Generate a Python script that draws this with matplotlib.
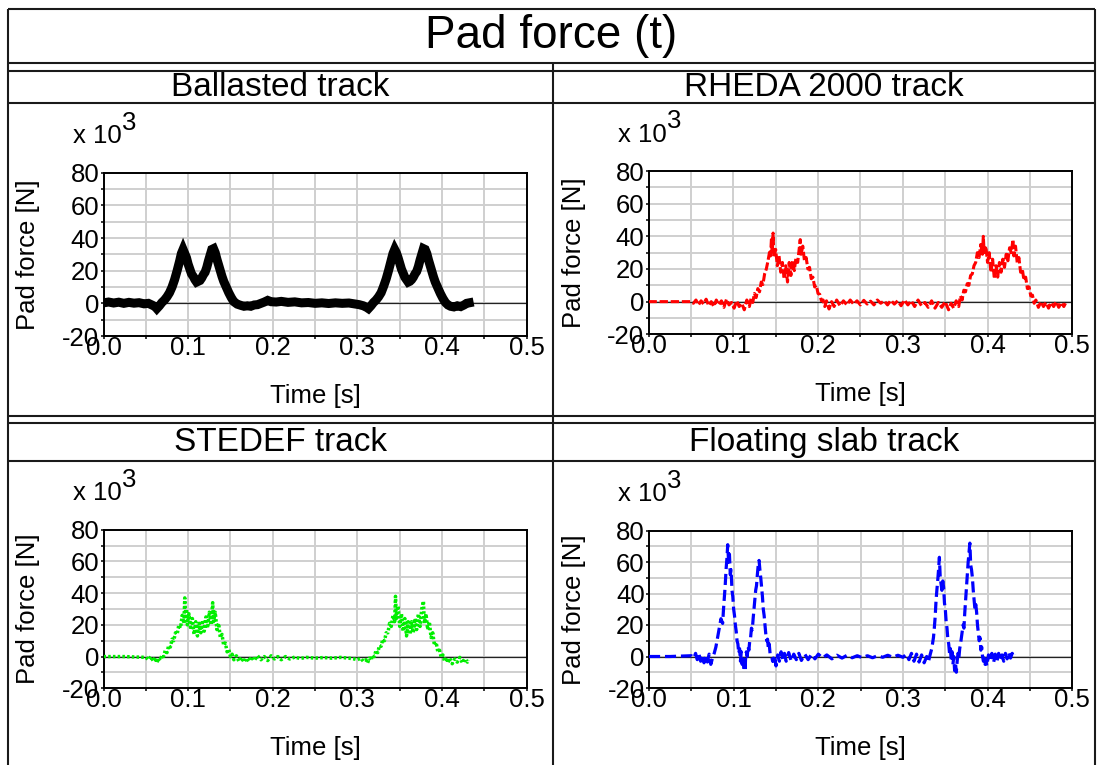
import numpy as np
import matplotlib
matplotlib.use("Agg")
import matplotlib.pyplot as plt
from matplotlib.ticker import MultipleLocator, FormatStrFormatter

plt.rcParams['font.family'] = ['Liberation Sans', 'DejaVu Sans']
plt.rcParams['axes.unicode_minus'] = False
plt.rcParams['lines.scale_dashes'] = False

W, H = 1098, 765

# ---- data (pad force in kN, i.e. x 10^3 N) ----
titles = ["Ballasted track", "RHEDA 2000 track", "STEDEF track", "Floating slab track"]

t_bal = [0.000, 0.006, 0.012, 0.018, 0.024, 0.030, 0.036, 0.042, 0.048, 0.053, 0.058, 0.061, 0.063, 0.066,
         0.069, 0.072, 0.075, 0.078, 0.081, 0.084, 0.087, 0.090, 0.092, 0.094, 0.096, 0.098, 0.100, 0.102,
         0.104, 0.106, 0.108, 0.110, 0.112, 0.114, 0.116, 0.118, 0.120, 0.122, 0.124, 0.126, 0.128, 0.130,
         0.132, 0.134, 0.136, 0.138, 0.140, 0.142, 0.145, 0.148, 0.151, 0.154, 0.158, 0.162, 0.166, 0.170,
         0.174, 0.178, 0.182, 0.186, 0.190, 0.194, 0.198, 0.204, 0.210, 0.218, 0.226, 0.234, 0.242, 0.250,
         0.258, 0.266, 0.274, 0.282, 0.290, 0.296, 0.302, 0.307, 0.311, 0.313, 0.316, 0.319, 0.322, 0.325,
         0.328, 0.331, 0.334, 0.337, 0.340, 0.342, 0.344, 0.346, 0.348, 0.350, 0.352, 0.354, 0.356, 0.358,
         0.360, 0.362, 0.364, 0.366, 0.368, 0.370, 0.372, 0.374, 0.376, 0.378, 0.380, 0.382, 0.384, 0.386,
         0.388, 0.390, 0.392, 0.395, 0.398, 0.401, 0.404, 0.407, 0.410, 0.414, 0.418, 0.422, 0.426, 0.429,
         0.432]
f_bal = [0.3, 0.8, 0.2, 0.7, 0.0, 0.6, 0.1, 0.4, -0.3, 0.0, -1.2, -2.0, -3.2, -1.5,
         0.5, 2.0, 4.0, 6.5, 10.0, 14.5, 20.0, 26.0, 30.5, 33.0, 30.5, 28.0, 24.0, 21.0,
         18.0, 16.5, 14.5, 13.0, 13.5, 14.0, 15.5, 17.5, 19.0, 22.0, 26.0, 29.5, 33.0, 33.5,
         31.0, 27.0, 23.5, 20.0, 16.5, 13.5, 10.0, 6.5, 3.5, 1.0, -0.5, -1.2, -1.8, -1.5,
         -1.8, -1.0, -0.8, 0.0, 0.8, 1.8, 1.0, 0.8, 1.2, 0.6, 0.9, 0.3, 0.5, 0.0,
         0.3, -0.1, 0.3, 0.0, 0.2, -0.3, -0.8, -1.5, -2.5, -3.2, -1.5, 0.5, 2.0, 4.0,
         6.5, 10.5, 15.0, 20.5, 26.5, 30.5, 33.0, 31.0, 28.0, 24.5, 21.0, 18.5, 16.0, 14.5,
         13.0, 13.5, 14.5, 16.0, 18.0, 19.5, 22.5, 26.5, 30.0, 33.5, 33.0, 30.5, 26.5, 23.0,
         19.5, 16.0, 13.0, 9.5, 6.0, 3.0, 0.5, -1.0, -1.8, -2.2, -1.5, -2.0, -1.0, 0.0,
         0.3]

t_rheda = [0.000, 0.025, 0.050, 0.053, 0.056, 0.059, 0.062, 0.065, 0.068, 0.071, 0.074, 0.077, 0.080, 0.083,
           0.086, 0.089, 0.092, 0.095, 0.098, 0.101, 0.104, 0.107, 0.110, 0.113, 0.116, 0.119, 0.121, 0.123,
           0.125, 0.127, 0.129, 0.131, 0.133, 0.135, 0.137, 0.139, 0.141, 0.143, 0.144, 0.145, 0.146, 0.147,
           0.148, 0.150, 0.152, 0.154, 0.156, 0.158, 0.160, 0.162, 0.164, 0.166, 0.168, 0.170, 0.172, 0.174,
           0.176, 0.178, 0.179, 0.180, 0.182, 0.184, 0.186, 0.188, 0.190, 0.192, 0.194, 0.196, 0.198, 0.200,
           0.202, 0.204, 0.206, 0.208, 0.210, 0.213, 0.216, 0.219, 0.222, 0.226, 0.230, 0.234, 0.238, 0.242,
           0.246, 0.250, 0.254, 0.258, 0.262, 0.266, 0.270, 0.274, 0.278, 0.282, 0.286, 0.290, 0.294, 0.298,
           0.302, 0.306, 0.310, 0.314, 0.318, 0.322, 0.326, 0.330, 0.334, 0.338, 0.342, 0.346, 0.350, 0.354,
           0.357, 0.360, 0.363, 0.366, 0.368, 0.370, 0.372, 0.374, 0.376, 0.378, 0.380, 0.382, 0.384, 0.386,
           0.388, 0.390, 0.392, 0.394, 0.395, 0.396, 0.398, 0.400, 0.402, 0.404, 0.406, 0.408, 0.410, 0.412,
           0.414, 0.416, 0.418, 0.420, 0.422, 0.424, 0.426, 0.428, 0.430, 0.431, 0.433, 0.435, 0.437, 0.439,
           0.441, 0.443, 0.445, 0.447, 0.449, 0.451, 0.453, 0.455, 0.457, 0.460, 0.463, 0.466, 0.469, 0.472,
           0.475, 0.478, 0.481, 0.484, 0.487, 0.490, 0.492]
f_rheda = [0.0, 0.0, 0.0, -1.0, 1.0, -2.0, 0.5, -1.5, 1.5, -2.5, 0.0, -3.0, 1.0, -2.0,
           0.5, -3.5, 1.5, -2.0, -0.5, -4.0, 0.5, -3.0, -1.0, -5.0, 1.0, -3.0, 2.0, -0.5,
           5.0, 2.5, 8.0, 6.0, 12.0, 10.5, 17.0, 20.0, 25.0, 31.0, 28.0, 38.0, 30.0, 42.0,
           27.0, 32.0, 22.0, 28.0, 18.0, 24.0, 14.0, 22.0, 12.0, 24.0, 16.0, 25.0, 19.0, 27.0,
           24.0, 33.0, 38.0, 29.0, 34.0, 25.0, 27.0, 20.0, 21.0, 14.0, 15.0, 9.0, 10.0, 5.0,
           4.5, 0.5, 1.0, -3.0, 0.5, -4.5, 0.0, -3.0, 1.0, -2.5, 0.5, -2.0, 1.0, -1.5,
           0.5, -2.0, 0.8, -1.5, 0.3, -2.0, 1.0, -1.0, 0.5, -2.0, 0.8, -1.5, 0.5, -2.5,
           1.0, -2.0, 0.5, -3.0, 1.0, -2.5, -0.5, -3.5, 0.5, -4.0, -0.5, -3.5, 0.0, -5.0,
           -1.0, -4.0, 0.5, -3.0, 3.5, 1.0, 7.0, 6.0, 11.0, 10.0, 16.0, 17.0, 22.0, 24.0,
           30.0, 27.0, 35.0, 29.0, 40.0, 30.0, 34.0, 24.0, 30.0, 18.0, 26.0, 14.0, 22.0, 15.0,
           24.0, 18.0, 26.0, 21.0, 29.0, 25.0, 33.0, 30.0, 38.0, 28.0, 34.0, 24.0, 27.0, 18.0,
           20.0, 13.0, 15.0, 8.0, 9.0, 3.5, 4.0, -1.0, 1.0, -3.5, 0.0, -3.0, -0.5, -4.0,
           -0.5, -3.0, 0.0, -3.5, -0.5, -3.0, -1.0]

t_stedef = [0.000, 0.025, 0.050, 0.053, 0.056, 0.059, 0.061, 0.063, 0.065, 0.067, 0.069, 0.071, 0.073, 0.075,
            0.077, 0.079, 0.081, 0.083, 0.085, 0.087, 0.089, 0.091, 0.093, 0.095, 0.096, 0.097, 0.098, 0.099,
            0.101, 0.103, 0.105, 0.107, 0.109, 0.111, 0.113, 0.115, 0.117, 0.119, 0.121, 0.123, 0.125, 0.127,
            0.129, 0.130, 0.132, 0.134, 0.136, 0.138, 0.140, 0.142, 0.144, 0.146, 0.148, 0.150, 0.152, 0.154,
            0.157, 0.160, 0.163, 0.166, 0.169, 0.172, 0.175, 0.178, 0.182, 0.186, 0.190, 0.194, 0.198, 0.202,
            0.206, 0.210, 0.215, 0.220, 0.226, 0.232, 0.240, 0.250, 0.260, 0.270, 0.280, 0.290, 0.296, 0.300,
            0.304, 0.307, 0.310, 0.312, 0.314, 0.316, 0.318, 0.320, 0.322, 0.324, 0.326, 0.328, 0.330, 0.332,
            0.334, 0.336, 0.338, 0.340, 0.342, 0.344, 0.345, 0.346, 0.348, 0.350, 0.352, 0.354, 0.356, 0.358,
            0.360, 0.362, 0.364, 0.366, 0.368, 0.370, 0.372, 0.374, 0.376, 0.378, 0.379, 0.381, 0.383, 0.385,
            0.387, 0.389, 0.391, 0.393, 0.395, 0.397, 0.399, 0.401, 0.403, 0.405, 0.407, 0.409, 0.412, 0.415,
            0.418, 0.421, 0.424, 0.427, 0.430, 0.431]
f_stedef = [0.0, 0.0, -0.5, -2.0, 0.0, -3.0, -0.5, -4.0, -1.0, -2.5, 1.0, 0.0, 4.0, 2.5,
            7.0, 6.0, 11.0, 10.0, 15.0, 14.0, 20.0, 18.0, 26.0, 21.0, 37.0, 24.0, 30.0, 20.0,
            27.0, 17.0, 24.0, 14.0, 22.0, 13.0, 21.0, 15.0, 23.0, 16.0, 25.0, 18.0, 28.0, 20.0,
            34.0, 22.0, 28.0, 17.0, 21.0, 12.0, 14.0, 7.0, 8.5, 3.0, 4.5, 0.0, 1.5, -2.0,
            0.5, -3.0, -0.5, -3.5, -1.0, -3.0, 0.0, -2.5, 0.5, -2.0, 0.0, -2.5, 0.5, -1.5,
            0.0, -2.0, 0.0, -1.5, -0.3, -1.2, -0.5, -1.0, -0.6, -1.0, -0.5, -1.0, -1.5, -2.0,
            -1.0, -3.0, -2.0, -4.0, -1.0, -2.5, 1.0, 0.0, 4.0, 2.5, 7.0, 6.5, 11.0, 10.0,
            15.0, 15.0, 21.0, 19.0, 26.0, 22.0, 38.0, 24.0, 32.0, 19.0, 27.0, 16.0, 24.0, 13.0,
            22.0, 14.0, 22.0, 15.0, 24.0, 17.0, 27.0, 19.0, 30.0, 35.0, 21.0, 27.0, 17.0, 22.0,
            12.0, 15.0, 7.0, 9.0, 3.0, 4.0, -0.5, 1.0, -3.0, -0.5, -4.0, -1.0, -4.5, -1.5,
            -3.5, -0.5, -4.0, -1.5, -3.5, -2.0]

t_float = [0.000, 0.025, 0.050, 0.053, 0.055, 0.057, 0.059, 0.061, 0.063, 0.065, 0.067, 0.069, 0.071, 0.073,
           0.075, 0.077, 0.079, 0.081, 0.083, 0.085, 0.087, 0.088, 0.090, 0.091, 0.092, 0.093, 0.094, 0.095,
           0.096, 0.097, 0.098, 0.099, 0.100, 0.101, 0.102, 0.103, 0.104, 0.105, 0.106, 0.107, 0.108, 0.109,
           0.110, 0.111, 0.112, 0.113, 0.1135, 0.114, 0.115, 0.116, 0.117, 0.118, 0.119, 0.120, 0.121, 0.122,
           0.123, 0.124, 0.125, 0.126, 0.127, 0.128, 0.129, 0.130, 0.131, 0.132, 0.133, 0.134, 0.135, 0.136,
           0.137, 0.138, 0.139, 0.140, 0.141, 0.142, 0.143, 0.145, 0.146, 0.147, 0.148, 0.149, 0.150, 0.152,
           0.154, 0.156, 0.158, 0.160, 0.162, 0.165, 0.168, 0.171, 0.174, 0.177, 0.180, 0.184, 0.188, 0.192,
           0.196, 0.200, 0.205, 0.210, 0.216, 0.222, 0.228, 0.234, 0.240, 0.246, 0.252, 0.258, 0.264, 0.270,
           0.276, 0.282, 0.288, 0.294, 0.300, 0.304, 0.307, 0.310, 0.313, 0.316, 0.319, 0.322, 0.325, 0.328,
           0.330, 0.332, 0.334, 0.336, 0.337, 0.338, 0.339, 0.340, 0.341, 0.342, 0.343, 0.344, 0.345, 0.346,
           0.347, 0.348, 0.349, 0.350, 0.351, 0.352, 0.353, 0.354, 0.355, 0.356, 0.357, 0.358, 0.359, 0.360,
           0.361, 0.362, 0.363, 0.364, 0.365, 0.366, 0.367, 0.368, 0.369, 0.370, 0.371, 0.372, 0.373, 0.374,
           0.375, 0.376, 0.377, 0.378, 0.379, 0.380, 0.381, 0.382, 0.383, 0.384, 0.385, 0.386, 0.387, 0.388,
           0.389, 0.390, 0.391, 0.392, 0.393, 0.394, 0.395, 0.396, 0.397, 0.398, 0.399, 0.401, 0.403, 0.405,
           0.407, 0.409, 0.411, 0.413, 0.415, 0.417, 0.419, 0.421, 0.423, 0.425, 0.427, 0.429, 0.431, 0.432]
f_float = [0.0, 0.0, 0.5, -1.0, 2.0, -2.0, 1.5, -3.0, 1.0, -4.0, 0.5, -3.5, 1.5, -5.0,
           -1.0, 2.0, 6.0, 12.0, 18.0, 24.0, 21.0, 30.0, 45.0, 55.0, 62.0, 71.0, 60.0, 65.0,
           52.0, 55.0, 42.0, 38.0, 30.0, 26.0, 20.0, 16.0, 10.0, 8.0, 2.0, 5.0, -3.0, 3.0,
           -5.0, 0.0, -8.0, -3.0, -9.5, -2.0, 3.0, 0.0, 6.0, 4.0, 10.0, 12.0, 18.0, 17.0,
           24.0, 30.0, 36.0, 42.0, 45.0, 52.0, 58.0, 61.0, 55.0, 50.0, 44.0, 38.0, 30.0, 26.0,
           20.0, 14.0, 10.0, 11.0, 5.0, 8.0, 2.0, 0.0, -3.0, -1.0, -5.0, -2.0, -6.0, 1.0,
           -3.0, 3.0, -2.0, 2.0, -3.0, 2.5, -3.0, 1.5, -2.0, 2.0, -2.5, 1.5, -2.0, 1.5,
           -1.5, 1.5, -1.0, 1.0, -1.5, 0.8, -1.0, 0.8, -0.8, 0.5, -0.8, 0.5, -0.8, 0.5,
           -0.5, 0.8, -0.5, 0.8, -0.5, 1.5, -2.0, 2.0, -3.0, 1.5, -3.5, 1.0, -4.0, 0.0,
           -3.5, 1.0, 5.0, 12.0, 18.0, 25.0, 35.0, 42.0, 48.0, 55.0, 63.0, 50.0, 46.0, 42.0,
           48.0, 44.0, 34.0, 30.0, 22.0, 18.0, 11.0, 8.0, 2.0, 5.0, -2.0, 3.0, -5.0, 0.0,
           -9.0, -4.0, -10.0, -3.0, 2.0, -1.0, 5.0, 8.0, 12.0, 16.0, 20.0, 18.0, 28.0, 36.0,
           44.0, 52.0, 60.0, 66.0, 72.0, 58.0, 55.0, 50.0, 42.0, 36.0, 30.0, 33.0, 28.0, 20.0,
           15.0, 10.0, 12.0, 4.0, 6.0, 0.0, -3.0, -1.0, -5.0, -2.0, -6.0, 1.0, -3.0, 2.0,
           -4.0, 1.5, -3.0, 2.0, -2.5, 1.0, -3.0, 2.0, -1.5, 2.5, -1.0, 2.0, 0.0, 1.5]

series = [(t_bal, f_bal), (t_rheda, f_rheda), (t_stedef, f_stedef), (t_float, f_float)]
colors = ["black", "#ff0000", "#00ee00", "#0000ff"]
styles = [dict(lw=6.5, ls="-", solid_joinstyle="miter"),
          dict(lw=2.2, dashes=(6, 2)),
          dict(lw=2.5, dashes=(1.8, 1.6)),
          dict(lw=2.3, dashes=(8, 3.5))]

# axes boxes in pixels: left, top, right, bottom
boxes = [(103.5, 172.7, 526.7, 336.0),
         (648.5, 171.0, 1072.3, 334.3),
         (103.5, 529.7, 526.7, 688.3),
         (649.0, 530.5, 1072.3, 688.0)]

fig = plt.figure(figsize=(W / 100, H / 100), dpi=100)

# frame of the table (pixel coordinates)
frame = fig.add_axes([0, 0, 1, 1])
frame.set_xlim(0, W)
frame.set_ylim(H, 0)
frame.axis("off")
lk = dict(color="#1a1a1a", lw=1.5, solid_capstyle="butt")
frame.plot([8, 8], [9, H + 2], **lk)
frame.plot([1095, 1095], [9, H + 2], **lk)
for y in [9, 62.7, 70.7, 103, 415.7, 423.3, 460.7]:
    frame.plot([8, 1095], [y, y], **lk)
frame.plot([553.3, 553.3], [62.7, H + 2], **lk)

frame.text(551.5, 36, "Pad force (t)", fontsize=33, ha="center", va="center")
head_pos = [(280.5, 87), (824, 87), (280.5, 442), (824, 442)]
for (hx, hy), name in zip(head_pos, titles):
    frame.text(hx, hy, name, fontsize=24, ha="center", va="center")

for i, (box, (tt, ff)) in enumerate(zip(boxes, series)):
    l, t, r, b = box
    ax = fig.add_axes([l / W, 1 - b / H, (r - l) / W, (b - t) / H])
    ax.set_xlim(0, 0.5)
    ax.set_ylim(-20, 80)
    ax.xaxis.set_major_locator(MultipleLocator(0.1))
    ax.xaxis.set_minor_locator(MultipleLocator(0.05))
    ax.yaxis.set_major_locator(MultipleLocator(20))
    ax.yaxis.set_minor_locator(MultipleLocator(10))
    ax.xaxis.set_major_formatter(FormatStrFormatter("%.1f"))
    ax.grid(which="both", color="#cfcfcf", lw=1.4, zorder=0)
    ax.set_axisbelow(True)
    ax.axhline(0, color="#222222", lw=0.9, zorder=1)
    ax.plot(tt, ff, color=colors[i], zorder=3, **styles[i])
    for s in ax.spines.values():
        s.set_linewidth(1.4)
        s.set_color("black")
    ax.tick_params(which="both", direction="out", length=2.5, width=1.1, labelsize=18.5)
    ax.tick_params(axis="x", pad=-2.5)
    ax.tick_params(axis="y", pad=0.5)

    frame.text(28.5 + (l - 103.5), (t + b) / 2, "Pad force [N]", fontsize=18.5,
               rotation=90, ha="center", va="center")
    frame.text((l + r) / 2, b + 60, "Time [s]", fontsize=18.5, ha="center", va="center")
    frame.text(l - 30.5, t - 29.4, "x 10", fontsize=18.5, ha="left", va="baseline")
    frame.text(l + 18.5, t - 42.7, "3", fontsize=18.5, ha="left", va="baseline")

fig.savefig("out.png", dpi=100)
